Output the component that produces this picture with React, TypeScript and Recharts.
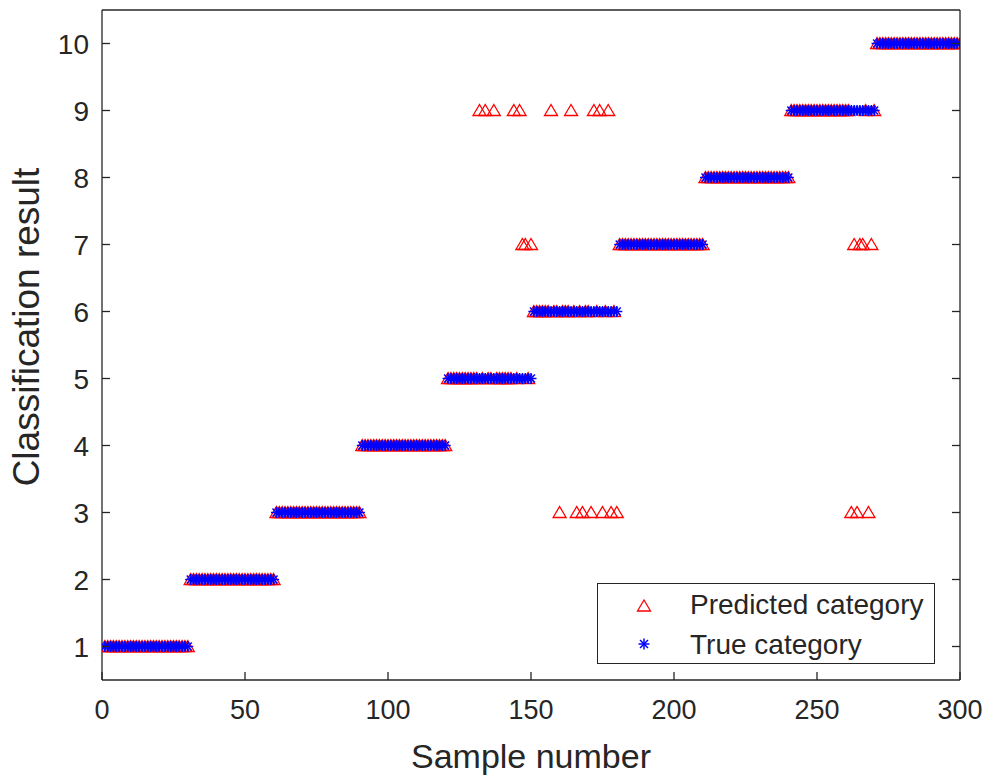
import React from 'react';
import { ScatterChart, Scatter, XAxis, YAxis, Legend } from 'recharts';

// True class of each sample (samples 1..300, 30 per class)
const trueCategory: number[] = [
  1,1,1,1,1,1,1,1,1,1,1,1,1,1,1,1,1,1,1,1,1,1,1,1,1,1,1,1,1,1,
  2,2,2,2,2,2,2,2,2,2,2,2,2,2,2,2,2,2,2,2,2,2,2,2,2,2,2,2,2,2,
  3,3,3,3,3,3,3,3,3,3,3,3,3,3,3,3,3,3,3,3,3,3,3,3,3,3,3,3,3,3,
  4,4,4,4,4,4,4,4,4,4,4,4,4,4,4,4,4,4,4,4,4,4,4,4,4,4,4,4,4,4,
  5,5,5,5,5,5,5,5,5,5,5,5,5,5,5,5,5,5,5,5,5,5,5,5,5,5,5,5,5,5,
  6,6,6,6,6,6,6,6,6,6,6,6,6,6,6,6,6,6,6,6,6,6,6,6,6,6,6,6,6,6,
  7,7,7,7,7,7,7,7,7,7,7,7,7,7,7,7,7,7,7,7,7,7,7,7,7,7,7,7,7,7,
  8,8,8,8,8,8,8,8,8,8,8,8,8,8,8,8,8,8,8,8,8,8,8,8,8,8,8,8,8,8,
  9,9,9,9,9,9,9,9,9,9,9,9,9,9,9,9,9,9,9,9,9,9,9,9,9,9,9,9,9,9,
  10,10,10,10,10,10,10,10,10,10,10,10,10,10,10,10,10,10,10,10,10,10,10,10,10,10,10,10,10,10,
];

// Predicted class of each sample
const predictedCategory: number[] = [
  1,1,1,1,1,1,1,1,1,1,1,1,1,1,1,1,1,1,1,1,1,1,1,1,1,1,1,1,1,1,
  2,2,2,2,2,2,2,2,2,2,2,2,2,2,2,2,2,2,2,2,2,2,2,2,2,2,2,2,2,2,
  3,3,3,3,3,3,3,3,3,3,3,3,3,3,3,3,3,3,3,3,3,3,3,3,3,3,3,3,3,3,
  4,4,4,4,4,4,4,4,4,4,4,4,4,4,4,4,4,4,4,4,4,4,4,4,4,4,4,4,4,4,
  5,5,5,5,5,5,5,5,5,5,5,9,5,9,5,5,9,5,5,5,5,5,5,9,5,9,7,7,5,7,
  6,6,6,6,6,6,9,6,6,3,6,6,6,9,6,3,6,3,6,6,3,9,6,9,3,6,9,3,6,3,
  7,7,7,7,7,7,7,7,7,7,7,7,7,7,7,7,7,7,7,7,7,7,7,7,7,7,7,7,7,7,
  8,8,8,8,8,8,8,8,8,8,8,8,8,8,8,8,8,8,8,8,8,8,8,8,8,8,8,8,8,8,
  9,9,9,9,9,9,9,9,9,9,9,9,9,9,9,9,9,9,9,9,9,3,7,3,7,7,9,3,7,9,
  10,10,10,10,10,10,10,10,10,10,10,10,10,10,10,10,10,10,10,10,10,10,10,10,10,10,10,10,10,10,
];

const xTicks = [0, 50, 100, 150, 200, 250, 300];
const yTicks = [1, 2, 3, 4, 5, 6, 7, 8, 9, 10];

const predictedData = predictedCategory.map((v, i) => ({ sample: i + 1, value: v }));
const trueData = trueCategory.map((v, i) => ({ sample: i + 1, value: v }));

const AXIS = '#262626';
const FONT = 'Arial, "Liberation Sans", Helvetica, sans-serif';

const Triangle = (props: any) => {
  const { cx, cy } = props;
  if (cx == null || cy == null) return null;
  const pts = `${cx},${cy - 6} ${cx + 6.5},${cy + 5} ${cx - 6.5},${cy + 5}`;
  return <polygon points={pts} fill="none" stroke="#ff0000" strokeWidth={1.3} strokeLinejoin="miter" />;
};

const Star = (props: any) => {
  const { cx, cy } = props;
  if (cx == null || cy == null) return null;
  const r = 5.5;
  const d = r * 0.72;
  return (
    <g stroke="#0000ff" strokeWidth={1.5}>
      <line x1={cx - r} y1={cy} x2={cx + r} y2={cy} />
      <line x1={cx} y1={cy - r} x2={cx} y2={cy + r} />
      <line x1={cx - d} y1={cy - d} x2={cx + d} y2={cy + d} />
      <line x1={cx - d} y1={cy + d} x2={cx + d} y2={cy - d} />
    </g>
  );
};

const XTickBottom = (props: any) => {
  const { x, y, payload } = props;
  return (
    <g>
      <line x1={x} y1={y} x2={x} y2={y - 8} stroke={AXIS} strokeWidth={1.3} />
      <text x={x} y={y + 39} textAnchor="middle" fontSize={27} fontFamily={FONT} fill={AXIS}>
        {payload.value}
      </text>
    </g>
  );
};

const XTickTop = (props: any) => {
  const { x, y } = props;
  return <line x1={x} y1={y} x2={x} y2={y + 8} stroke={AXIS} strokeWidth={1.3} />;
};

const YTickLeft = (props: any) => {
  const { x, y, payload } = props;
  return (
    <g>
      <line x1={x} y1={y} x2={x + 8} y2={y} stroke={AXIS} strokeWidth={1.3} />
      <text x={x - 13} y={y} dy="0.36em" textAnchor="end" fontSize={28} fontFamily={FONT} fill={AXIS}>
        {payload.value}
      </text>
    </g>
  );
};

const YTickRight = (props: any) => {
  const { x, y } = props;
  return <line x1={x} y1={y} x2={x - 8} y2={y} stroke={AXIS} strokeWidth={1.3} />;
};

const XLabel = (props: any) => {
  const { viewBox } = props;
  const cx = viewBox.x + viewBox.width / 2;
  return (
    <text x={cx} y={viewBox.y + 88} textAnchor="middle" fontSize={34} fontFamily={FONT} fill={AXIS}>
      Sample number
    </text>
  );
};

const YLabel = (props: any) => {
  const { viewBox } = props;
  const cx = 26;
  const cy = viewBox.y + viewBox.height / 2 - 18;
  return (
    <text
      x={cx}
      y={cy}
      dy="0.36em"
      transform={`rotate(-90 ${cx} ${cy})`}
      textAnchor="middle"
      fontSize={37}
      fontFamily={FONT}
      fill={AXIS}
    >
      Classification result
    </text>
  );
};

const LegendBox = () => (
  <div
    style={{
      width: 336,
      height: 79,
      border: `1.3px solid ${AXIS}`,
      background: '#fff',
      fontFamily: FONT,
      fontSize: 28,
      lineHeight: '32px',
      color: AXIS,
      position: 'relative',
    }}
  >
    <svg width={40} height={79} style={{ position: 'absolute', left: 26, top: 0 }}>
      <Triangle cx={20} cy={22} />
      <Star cx={20} cy={60} />
    </svg>
    <div style={{ position: 'absolute', left: 92, top: 5, whiteSpace: 'nowrap' }}>Predicted category</div>
    <div style={{ position: 'absolute', left: 92, top: 45, whiteSpace: 'nowrap' }}>True category</div>
  </div>
);

export default function App() {
  return (
    <div style={{ position: 'absolute', left: 0, top: 0, width: 989, height: 778, background: '#fff' }}>
      <ScatterChart width={989} height={778} margin={{ top: 9, right: 28, bottom: 0, left: 0 }}>
        <XAxis
          xAxisId="b"
          type="number"
          dataKey="sample"
          domain={[0, 300]}
          ticks={xTicks}
          allowDataOverflow
          height={98}
          tickLine={false}
          tickSize={0}
          tickMargin={0}
          stroke={AXIS}
          strokeWidth={1.3}
          tick={<XTickBottom />}
          label={<XLabel />}
          interval={0}
        />
        <XAxis
          xAxisId="t"
          orientation="top"
          type="number"
          domain={[0, 300]}
          ticks={xTicks}
          allowDataOverflow
          height={1}
          tickLine={false}
          tickSize={0}
          tickMargin={0}
          stroke={AXIS}
          strokeWidth={1.3}
          tick={<XTickTop />}
          interval={0}
        />
        <YAxis
          yAxisId="l"
          type="number"
          dataKey="value"
          domain={[0.5, 10.5]}
          ticks={yTicks}
          allowDataOverflow
          width={102}
          tickLine={false}
          tickSize={0}
          tickMargin={0}
          stroke={AXIS}
          strokeWidth={1.3}
          tick={<YTickLeft />}
          label={<YLabel />}
          interval={0}
        />
        <YAxis
          yAxisId="r"
          orientation="right"
          type="number"
          domain={[0.5, 10.5]}
          ticks={yTicks}
          allowDataOverflow
          width={1}
          tickLine={false}
          tickSize={0}
          tickMargin={0}
          stroke={AXIS}
          strokeWidth={1.3}
          tick={<YTickRight />}
          interval={0}
        />
        <Scatter
          name="Predicted category"
          data={predictedData}
          xAxisId="b"
          yAxisId="l"
          shape={<Triangle />}
          isAnimationActive={false}
        />
        <Scatter
          name="True category"
          data={trueData}
          xAxisId="b"
          yAxisId="l"
          shape={<Star />}
          isAnimationActive={false}
        />
        <Legend
          layout="vertical"
          align="center"
          verticalAlign="middle"
          content={<LegendBox />}
          wrapperStyle={{ left: 597, top: 583, width: 338, height: 81 }}
        />
      </ScatterChart>
    </div>
  );
}
